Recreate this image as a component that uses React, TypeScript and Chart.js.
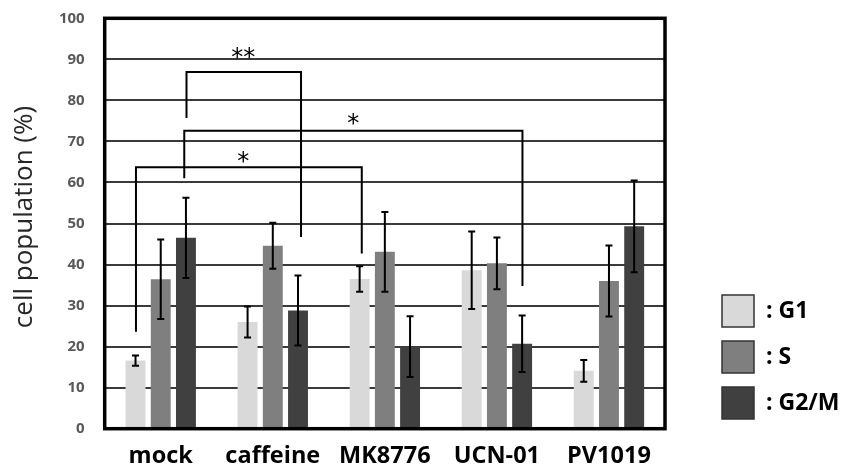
import React, { useEffect, useRef } from "react";
import { Chart, registerables } from "chart.js";

Chart.register(...registerables);

const categories = ["mock", "caffeine", "MK8776", "UCN-01", "PV1019"];
const seriesNames = [": G1", ": S", ": G2/M"];
const seriesColors = ["#d9d9d9", "#7f7f7f", "#404040"];
const g1Values = [16.6, 26.0, 36.5, 38.6, 14.1];
const g1Errors = [1.25, 3.75, 3.1, 9.45, 2.65];
const sValues = [36.4, 44.6, 43.1, 40.3, 36.0];
const sErrors = [9.7, 5.6, 9.7, 6.3, 8.65];
const g2mValues = [46.5, 28.8, 20.0, 20.7, 49.3];
const g2mErrors = [9.8, 8.55, 7.4, 6.9, 11.2];
const yTicks = [0, 10, 20, 30, 40, 50, 60, 70, 80, 90, 100];
const yTitle = "cell population (%)";

// significance brackets in data coordinates (x = category index, y = %)
const bracketLeftX = [0.23, 0.21, -0.221];
const bracketRightX = [1.252, 3.228, 1.794];
const bracketTopY = [86.9, 72.6, 63.7];
const bracketLeftBottomY = [75.7, 61.0, 23.6];
const bracketRightBottomY = [46.7, 34.8, 42.7];
const bracketLabels = ["**", "*", "*"];
const bracketLabelX = [0.737, 1.718, 0.737];
const bracketLabelY = [91.9, 75.6, 66.4];

const allValues = [g1Values, sValues, g2mValues];
const allErrors = [g1Errors, sErrors, g2mErrors];

const overlayPlugin = {
  id: "overlay",
  afterDatasetsDraw(chart: any) {
    const { ctx, chartArea, scales } = chart;
    const x = scales.x;
    const y = scales.y;
    ctx.save();
    // error bars
    ctx.strokeStyle = "#000";
    ctx.lineWidth = 2;
    chart.data.datasets.forEach((ds: any, i: number) => {
      const meta = chart.getDatasetMeta(i);
      meta.data.forEach((bar: any, j: number) => {
        const v = ds.data[j];
        const e = allErrors[i][j];
        const yt = y.getPixelForValue(v + e);
        const yb = y.getPixelForValue(v - e);
        const cx = bar.x;
        ctx.beginPath();
        ctx.moveTo(cx, yt);
        ctx.lineTo(cx, yb);
        ctx.moveTo(cx - 3.5, yt);
        ctx.lineTo(cx + 3.5, yt);
        ctx.moveTo(cx - 3.5, yb);
        ctx.lineTo(cx + 3.5, yb);
        ctx.stroke();
      });
    });
    // plot border
    ctx.lineWidth = 3.5;
    ctx.strokeRect(
      chartArea.left,
      chartArea.top,
      chartArea.right - chartArea.left,
      chartArea.bottom - chartArea.top
    );
    // brackets
    ctx.lineWidth = 2;
    ctx.lineJoin = "miter";
    for (let k = 0; k < bracketLabels.length; k++) {
      const xl = x.getPixelForValue(bracketLeftX[k]);
      const xr = x.getPixelForValue(bracketRightX[k]);
      const yt = y.getPixelForValue(bracketTopY[k]);
      ctx.beginPath();
      ctx.moveTo(xl, y.getPixelForValue(bracketLeftBottomY[k]));
      ctx.lineTo(xl, yt);
      ctx.lineTo(xr, yt);
      ctx.lineTo(xr, y.getPixelForValue(bracketRightBottomY[k]));
      ctx.stroke();
      const fs = 24;
      ctx.font = `${fs}px "DejaVu Sans"`;
      ctx.fillStyle = "#000";
      ctx.textAlign = "center";
      ctx.textBaseline = "alphabetic";
      ctx.fillText(
        bracketLabels[k],
        x.getPixelForValue(bracketLabelX[k]),
        y.getPixelForValue(bracketLabelY[k]) + fs * 0.54
      );
    }
    // y-axis title
    ctx.save();
    ctx.translate(25, 217);
    ctx.rotate(-Math.PI / 2);
    ctx.font = `26px "Open Sans"`;
    ctx.fillStyle = "#262626";
    ctx.textAlign = "center";
    ctx.textBaseline = "middle";
    ctx.fillText(yTitle, 0, 0);
    ctx.restore();
    // legend
    const boxX = 722;
    const boxTops = [295, 341, 387];
    for (let i = 0; i < seriesNames.length; i++) {
      ctx.fillStyle = seriesColors[i];
      ctx.fillRect(boxX, boxTops[i], 32, 32);
      ctx.strokeStyle = "#333";
      ctx.lineWidth = 1.5;
      ctx.strokeRect(boxX, boxTops[i], 32, 32);
      ctx.fillStyle = "#000";
      ctx.font = `bold 23px "Open Sans"`;
      ctx.textAlign = "left";
      ctx.textBaseline = "middle";
      ctx.fillText(seriesNames[i], 766, boxTops[i] + 16);
    }
    ctx.restore();
  },
};

export default function App() {
  const ref = useRef<HTMLCanvasElement | null>(null);
  useEffect(() => {
    if (!ref.current) return;
    const chart = new Chart(ref.current, {
      type: "bar",
      data: {
        labels: categories,
        datasets: allValues.map((vals, i) => ({
          label: seriesNames[i],
          data: vals,
          backgroundColor: seriesColors[i],
          borderWidth: 0,
          categoryPercentage: 0.675,
          barPercentage: 0.79,
        })),
      },
      options: {
        responsive: false,
        animation: false,
        layout: { padding: { left: 0, right: 179, top: 18.3, bottom: 0 } },
        plugins: { legend: { display: false }, tooltip: { enabled: false } },
        scales: {
          x: {
            grid: { display: false, drawTicks: false },
            border: { display: false },
            ticks: {
              color: "#000",
              font: { family: "Open Sans", weight: "bold", size: 23.5 },
              padding: 14,
              maxRotation: 0,
            },
            afterFit: (s: any) => {
              s.height = 41.3;
              s.paddingLeft = 0;
              s.paddingRight = 0;
            },
          },
          y: {
            min: 0,
            max: 100,
            afterBuildTicks: (s: any) => {
              s.ticks = yTicks.map((v) => ({ value: v }));
            },
            grid: { color: "#3a3a3a", lineWidth: 2, drawTicks: false },
            border: { display: false },
            ticks: {
              color: "#595959",
              font: { family: "Open Sans", weight: "bold", size: 15 },
              padding: 20,
            },
            afterFit: (s: any) => {
              s.width = 104.7;
              s.paddingTop = 0;
              s.paddingBottom = 0;
            },
          },
        },
      },
      plugins: [overlayPlugin],
    });
    return () => chart.destroy();
  }, []);
  return (
    <div style={{ position: "fixed", left: 0, top: 0, width: 844, height: 470 }}>
      <canvas ref={ref} width={844} height={470} />
    </div>
  );
}
